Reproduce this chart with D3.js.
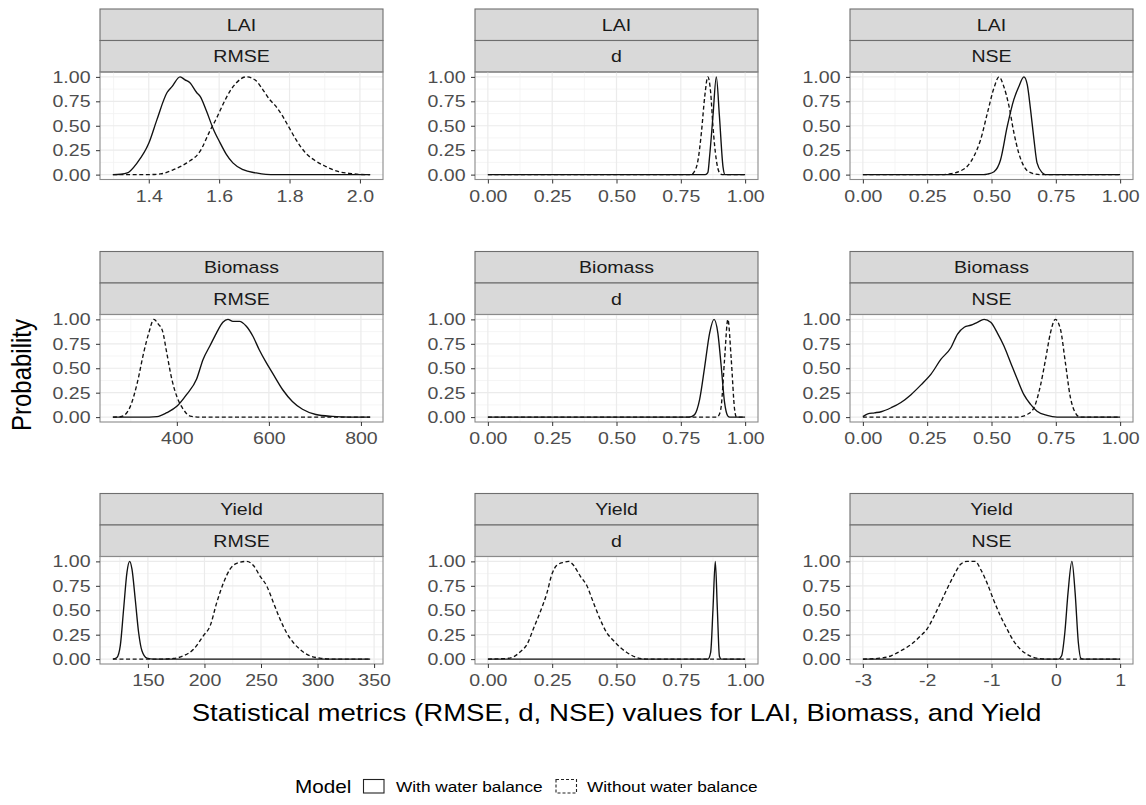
<!DOCTYPE html>
<html>
<head>
<meta charset="utf-8">
<script src="https://cdn.jsdelivr.net/npm/d3@7"></script>
<style>
  body { margin: 0; background: #fff; }
  svg { display: block; }
  text { font-family: "Liberation Sans", Arial, Helvetica, sans-serif; }
</style>
</head>
<body>
<svg id="chart" width="1146" height="805"></svg>
<script>
// ---- categories ----
const crops = ["LAI", "Biomass", "Yield"];
const metrics = ["RMSE", "d", "NSE"];
const models = ["With water balance", "Without water balance"];

// ---- normalised densities: [value, probability] ----
const laiRmseWith = [[1.298,0],[1.32,0.004],[1.339,0.017],[1.367,0.12],[1.40,0.32],[1.423,0.56],[1.452,0.84],[1.466,0.90],[1.489,1.0],[1.503,0.97],[1.517,0.94],[1.536,0.84],[1.546,0.80],[1.564,0.65],[1.583,0.47],[1.602,0.33],[1.62,0.21],[1.639,0.12],[1.668,0.05],[1.705,0.017],[1.733,0.003],[1.76,0],[2.029,0]];
const laiRmseWithout = [[1.298,0],[1.40,0],[1.433,0.007],[1.47,0.05],[1.508,0.12],[1.546,0.24],[1.574,0.45],[1.593,0.58],[1.611,0.72],[1.63,0.85],[1.649,0.94],[1.677,1.0],[1.705,0.96],[1.724,0.87],[1.743,0.77],[1.761,0.70],[1.78,0.60],[1.799,0.48],[1.818,0.36],[1.846,0.22],[1.874,0.14],[1.902,0.085],[1.94,0.03],[1.977,0.01],[2.0,0.002],[2.029,0]];

const laiDWith = [[0,0],[0.845,0],[0.855,0.02],[0.862,0.19],[0.875,0.6],[0.888,1.0],[0.9,0.6],[0.914,0.08],[0.922,0],[1,0]];
const laiDWithout = [[0,0],[0.79,0],[0.80,0.02],[0.817,0.15],[0.83,0.43],[0.843,0.80],[0.855,1.0],[0.866,0.84],[0.875,0.49],[0.888,0.15],[0.9,0.02],[0.91,0],[1,0]];

const laiNseWith = [[0,0],[0.47,0],[0.484,0.005],[0.51,0.03],[0.535,0.15],[0.561,0.49],[0.587,0.77],[0.606,0.9],[0.626,1.0],[0.639,0.92],[0.652,0.66],[0.665,0.36],[0.677,0.12],[0.697,0.02],[0.71,0],[1,0]];
const laiNseWithout = [[0,0],[0.30,0],[0.342,0.01],[0.381,0.04],[0.406,0.085],[0.432,0.19],[0.458,0.36],[0.484,0.63],[0.51,0.89],[0.529,1.0],[0.548,0.9],[0.568,0.70],[0.587,0.43],[0.606,0.22],[0.626,0.085],[0.652,0.02],[0.69,0],[1,0]];

const biomassRmseWith = [[261,0],[340,0],[357,0.005],[378,0.045],[400,0.11],[421,0.23],[443,0.39],[457,0.59],[472,0.73],[486,0.86],[500,0.97],[511,1.0],[522,0.98],[536,0.98],[551,0.93],[565,0.83],[579,0.69],[594,0.56],[608,0.45],[630,0.28],[651,0.16],[673,0.08],[702,0.027],[738,0.007],[774,0],[820,0]];
const biomassRmseWithout = [[261,0],[275,0.003],[285,0.017],[299,0.11],[314,0.35],[328,0.66],[339,0.86],[350,1.0],[360,0.95],[369,0.88],[378,0.66],[389,0.39],[400,0.21],[414,0.08],[429,0.01],[450,0],[820,0]];

const biomassDWith = [[0,0],[0.78,0],[0.791,0.005],[0.804,0.027],[0.823,0.18],[0.843,0.52],[0.862,0.86],[0.879,1.0],[0.894,0.86],[0.907,0.52],[0.92,0.15],[0.933,0.01],[0.94,0],[1,0]];
const biomassDWithout = [[0,0],[0.89,0],[0.9,0.03],[0.907,0.11],[0.92,0.59],[0.933,1.0],[0.946,0.59],[0.959,0.08],[0.966,0],[1,0]];

const biomassNseWith = [[0,0.005],[0.019,0.034],[0.045,0.044],[0.071,0.055],[0.11,0.096],[0.148,0.15],[0.187,0.23],[0.226,0.33],[0.265,0.44],[0.303,0.59],[0.342,0.71],[0.368,0.85],[0.394,0.92],[0.419,0.94],[0.445,0.97],[0.471,1.0],[0.497,0.97],[0.523,0.86],[0.548,0.73],[0.574,0.56],[0.6,0.39],[0.626,0.23],[0.652,0.13],[0.677,0.06],[0.716,0.017],[0.755,0],[1,0]];
const biomassNseWithout = [[0,0],[0.60,0],[0.613,0.003],[0.639,0.027],[0.665,0.096],[0.69,0.32],[0.71,0.59],[0.729,0.86],[0.748,1.0],[0.768,0.9],[0.787,0.56],[0.806,0.21],[0.826,0.044],[0.845,0],[1,0]];

const yieldRmseWith = [[119,0],[122.6,0.017],[125.6,0.14],[128.5,0.51],[131.5,0.89],[133.8,1.0],[135.9,0.92],[138.8,0.61],[141.8,0.27],[144.7,0.085],[149.1,0.01],[155,0],[346.5,0]];
const yieldRmseWithout = [[119,0],[160.9,0],[172.6,0.007],[181.5,0.034],[190.3,0.1],[199.1,0.24],[205,0.34],[210.9,0.58],[216.8,0.78],[222.6,0.92],[228.5,0.98],[237.4,1.0],[243.2,0.96],[249.1,0.85],[255,0.75],[260.9,0.58],[266.8,0.41],[272.6,0.27],[278.5,0.17],[284.4,0.10],[293.2,0.034],[302,0.01],[313.8,0],[346.5,0]];

const yieldDWith = [[0,0],[0.855,0],[0.866,0.07],[0.875,0.51],[0.884,1.0],[0.892,0.51],[0.9,0.03],[0.907,0],[1,0]];
const yieldDWithout = [[0,0],[0.075,0.007],[0.1,0.024],[0.126,0.075],[0.152,0.15],[0.177,0.31],[0.203,0.48],[0.23,0.68],[0.249,0.87],[0.268,0.96],[0.294,0.99],[0.314,1.0],[0.333,0.96],[0.359,0.85],[0.385,0.75],[0.41,0.58],[0.436,0.41],[0.462,0.27],[0.488,0.19],[0.514,0.12],[0.539,0.07],[0.578,0.017],[0.617,0],[1,0]];

const yieldNseWith = [[-3,0],[0.04,0],[0.09,0.034],[0.14,0.27],[0.19,0.68],[0.25,1.0],[0.30,0.68],[0.35,0.17],[0.39,0.007],[0.43,0],[1,0]];
const yieldNseWithout = [[-3,0],[-2.77,0.007],[-2.56,0.034],[-2.41,0.085],[-2.25,0.15],[-2.1,0.24],[-2.0,0.31],[-1.9,0.43],[-1.79,0.58],[-1.69,0.72],[-1.59,0.85],[-1.48,0.97],[-1.38,1.0],[-1.25,1.0],[-1.17,0.92],[-1.07,0.78],[-0.97,0.61],[-0.86,0.44],[-0.76,0.31],[-0.66,0.19],[-0.55,0.10],[-0.45,0.05],[-0.3,0.01],[-0.14,0],[1,0]];

// ---- tick values and labels ----
const probTicks = [0, 0.25, 0.5, 0.75, 1];
const probLabels = ["0.00", "0.25", "0.50", "0.75", "1.00"];
const unitTicks = [0, 0.25, 0.5, 0.75, 1];
const unitLabels = ["0.00", "0.25", "0.50", "0.75", "1.00"];
const laiRmseTicks = [1.4, 1.6, 1.8, 2.0];
const laiRmseLabels = ["1.4", "1.6", "1.8", "2.0"];
const biomassRmseTicks = [400, 600, 800];
const biomassRmseLabels = ["400", "600", "800"];
const yieldRmseTicks = [150, 200, 250, 300, 350];
const yieldRmseLabels = ["150", "200", "250", "300", "350"];
const yieldNseTicks = [-3, -2, -1, 0, 1];
const yieldNseLabels = ["-3", "-2", "-1", "0", "1"];

const panels = [
  { crop: 0, metric: 0, with: laiRmseWith, without: laiRmseWithout, ticks: laiRmseTicks, labels: laiRmseLabels },
  { crop: 0, metric: 1, with: laiDWith, without: laiDWithout, ticks: unitTicks, labels: unitLabels },
  { crop: 0, metric: 2, with: laiNseWith, without: laiNseWithout, ticks: unitTicks, labels: unitLabels },
  { crop: 1, metric: 0, with: biomassRmseWith, without: biomassRmseWithout, ticks: biomassRmseTicks, labels: biomassRmseLabels },
  { crop: 1, metric: 1, with: biomassDWith, without: biomassDWithout, ticks: unitTicks, labels: unitLabels },
  { crop: 1, metric: 2, with: biomassNseWith, without: biomassNseWithout, ticks: unitTicks, labels: unitLabels },
  { crop: 2, metric: 0, with: yieldRmseWith, without: yieldRmseWithout, ticks: yieldRmseTicks, labels: yieldRmseLabels },
  { crop: 2, metric: 1, with: yieldDWith, without: yieldDWithout, ticks: unitTicks, labels: unitLabels },
  { crop: 2, metric: 2, with: yieldNseWith, without: yieldNseWithout, ticks: yieldNseTicks, labels: yieldNseLabels }
];

// ---- layout ----
const SX = 1.15;                 // horizontal glyph stretch
const PW = 283, PH = 107.5, SH = 31.5;
const colX = [100, 475, 850];
const rowY = [9, 251.5, 493.5];
const dashes = ["none", "4,2.6"];

const svg = d3.select("#chart");

function midpoints(t) {
  const out = [];
  for (let i = 0; i < t.length - 1; i++) out.push((t[i] + t[i + 1]) / 2);
  return out;
}

panels.forEach(p => {
  const g = svg.append("g").attr("transform", `translate(${colX[p.metric]},${rowY[p.crop]})`);

  // facet strips
  [crops[p.crop], metrics[p.metric]].forEach((lab, k) => {
    g.append("rect").attr("x", 0).attr("y", k * SH).attr("width", PW).attr("height", SH)
      .attr("fill", "#D9D9D9").attr("stroke", "#6e6e6e").attr("stroke-width", 1.1);
    g.append("text")
      .attr("transform", `translate(${PW / 2},${k * SH + SH / 2 + 6.2}) scale(${SX},1)`)
      .attr("text-anchor", "middle").attr("font-size", 17).attr("fill", "#1A1A1A").text(lab);
  });

  const pg = g.append("g").attr("transform", `translate(0,${2 * SH})`);
  const all = p.with.concat(p.without);
  const [lo, hi] = d3.extent(all, d => d[0]);
  const pad = (hi - lo) * 0.05;
  const x = d3.scaleLinear().domain([lo - pad, hi + pad]).range([0, PW]);
  const y = d3.scaleLinear().domain([-0.05, 1.05]).range([PH, 0]);

  // grid
  const xMinor = midpoints(p.ticks);
  const step = p.ticks[1] - p.ticks[0];
  xMinor.unshift(p.ticks[0] - step / 2);
  xMinor.push(p.ticks[p.ticks.length - 1] + step / 2);
  const [d0, d1] = x.domain();
  pg.selectAll(".vminor").data(xMinor.filter(v => v >= d0 && v <= d1)).join("line")
    .attr("x1", d => x(d)).attr("x2", d => x(d)).attr("y1", 0).attr("y2", PH)
    .attr("stroke", "#F3F3F3").attr("stroke-width", 0.8);
  pg.selectAll(".hminor").data(midpoints(probTicks)).join("line")
    .attr("x1", 0).attr("x2", PW).attr("y1", d => y(d)).attr("y2", d => y(d))
    .attr("stroke", "#F3F3F3").attr("stroke-width", 0.8);
  pg.selectAll(".vmajor").data(p.ticks).join("line")
    .attr("x1", d => x(d)).attr("x2", d => x(d)).attr("y1", 0).attr("y2", PH)
    .attr("stroke", "#EBEBEB").attr("stroke-width", 1.2);
  pg.selectAll(".hmajor").data(probTicks).join("line")
    .attr("x1", 0).attr("x2", PW).attr("y1", d => y(d)).attr("y2", d => y(d))
    .attr("stroke", "#EBEBEB").attr("stroke-width", 1.2);

  // density curves
  const line = d3.line().x(d => x(d[0])).y(d => y(d[1])).curve(d3.curveMonotoneX);
  [p.with, p.without].forEach((series, k) => {
    pg.append("path").attr("d", line(series)).attr("fill", "none")
      .attr("stroke", "#111").attr("stroke-width", 1.35)
      .attr("stroke-dasharray", dashes[k]);
  });

  // panel border
  pg.append("rect").attr("x", 0).attr("y", 0).attr("width", PW).attr("height", PH)
    .attr("fill", "none").attr("stroke", "#8a8a8a").attr("stroke-width", 1.1);

  // axes
  const ya = pg.append("g").call(d3.axisLeft(y).tickValues(probTicks)
    .tickFormat((d, i) => probLabels[i]).tickSize(4).tickPadding(5));
  ya.select(".domain").remove();
  ya.selectAll(".tick line").attr("stroke", "#333").attr("stroke-width", 1);
  ya.selectAll(".tick text").attr("x", null)
    .attr("transform", `translate(-9.5,0) scale(${SX},1)`)
    .attr("font-size", 17).attr("fill", "#4D4D4D").attr("font-family", null);

  const xa = pg.append("g").attr("transform", `translate(0,${PH})`)
    .call(d3.axisBottom(x).tickValues(p.ticks).tickFormat((d, i) => p.labels[i]).tickSize(4).tickPadding(4));
  xa.select(".domain").remove();
  xa.selectAll(".tick line").attr("stroke", "#333").attr("stroke-width", 1);
  xa.selectAll(".tick text").attr("y", null)
    .attr("transform", `translate(0,10.3) scale(${SX},1)`)
    .attr("font-size", 17).attr("fill", "#4D4D4D").attr("font-family", null);
});

// axis titles
svg.append("text")
  .attr("transform", `translate(31,375) scale(${SX},1) rotate(-90)`)
  .attr("text-anchor", "middle").attr("font-size", 24).attr("fill", "#000").text("Probability");
svg.append("text")
  .attr("transform", `translate(616.5,721) scale(${SX},1)`)
  .attr("text-anchor", "middle").attr("font-size", 24).attr("fill", "#000")
  .text("Statistical metrics (RMSE, d, NSE) values for LAI, Biomass, and Yield");

// legend
const lg = svg.append("g");
lg.append("text").attr("transform", `translate(295,792.5) scale(${SX},1)`)
  .attr("font-size", 18).attr("fill", "#000").text("Model");
const keyX = [363.5, 556];
const labX = [396, 587];
models.forEach((m, k) => {
  lg.append("rect").attr("x", keyX[k]).attr("y", 779.5).attr("width", 20.5).attr("height", 13.5)
    .attr("fill", "#fff").attr("stroke", "#222").attr("stroke-width", 1.1)
    .attr("stroke-dasharray", k ? "3,2" : "none");
  lg.append("text").attr("transform", `translate(${labX[k]},792) scale(${SX},1)`)
    .attr("font-size", 15).attr("fill", "#000").text(m);
});
</script>
</body>
</html>
